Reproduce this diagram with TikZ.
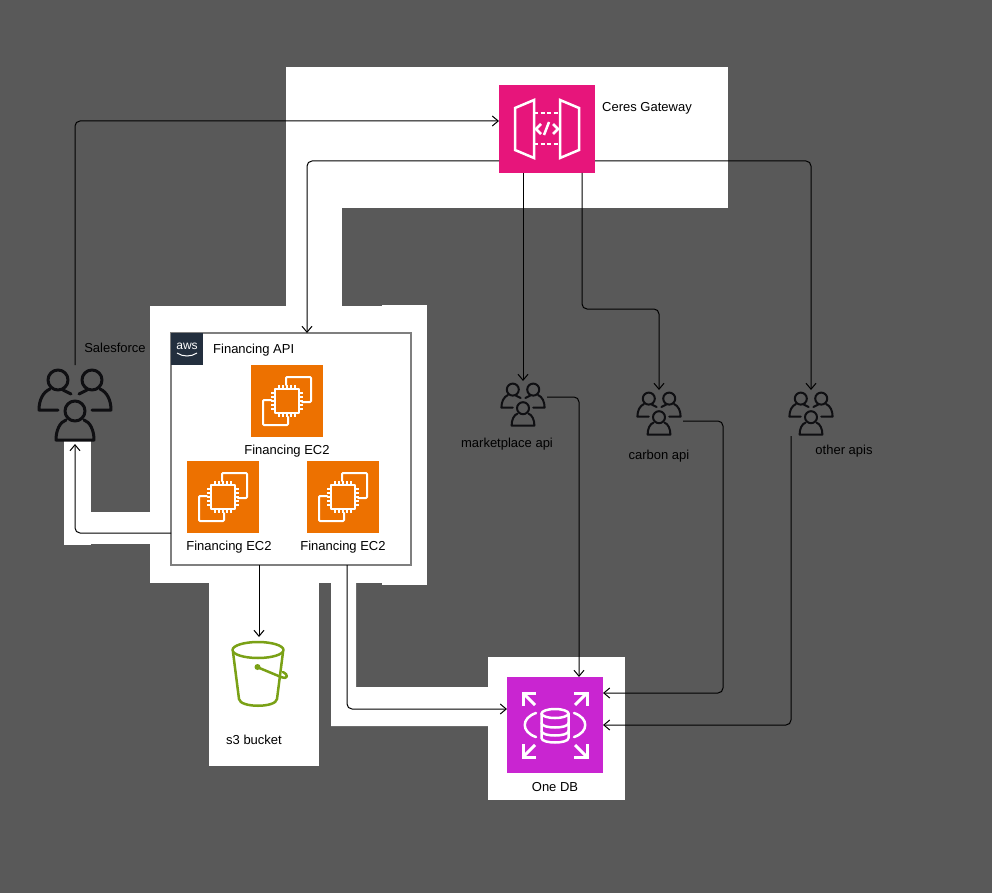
\documentclass[tikz,border=0pt]{standalone}
\usepackage{fontspec}
\setmainfont{Liberation Sans}
\usetikzlibrary{arrows.meta,calc}
\definecolor{bgc}{HTML}{595959}
\definecolor{gwc}{HTML}{E7157B}
\definecolor{ecc}{HTML}{ED7100}
\definecolor{dbc}{HTML}{C925D1}
\definecolor{s3c}{HTML}{7AA116}
\definecolor{awsc}{HTML}{232F3E}
\definecolor{boxc}{HTML}{7F7F7F}
\definecolor{usrc}{HTML}{0F0F12}
\tikzset{
  iconbox/.style={inner sep=0pt,outer sep=0pt,minimum width=#1,minimum height=#1},
  ecbox/.style={iconbox=72pt,fill=ecc},
  lbl/.style={inner sep=0pt,font=\fontsize{13}{15}\selectfont,text=black},
  lblw/.style={lbl,anchor=west},
  conn/.style={draw=black,line width=1pt,rounded corners=5pt,-{Straight Barb[length=6pt,width=10pt,line width=1pt]}},
  wh/.style={line width=2.5pt,draw=white,line cap=round,line join=round,fill=none},
  us/.style={inner sep=0pt,outer sep=0pt,minimum width=#1,minimum height=46pt},
}
\newcommand{\ecicon}[1]{\begin{scope}[shift={(#1)}]
  \draw[wh,line width=2pt,rounded corners=1pt] (-1,-16)--(-1,-24)--(24,-24)--(24,1)--(15,1);
  \draw[wh,line width=2pt,rounded corners=1pt] (-16,-1)--(-24,-1)--(-24,24)--(1,24)--(1,16);
  \draw[wh] (-12,-12) rectangle (12,12);
  \foreach \p in {-8,-4,0,4,8}{
    \draw[white,line width=1.4pt] (\p,-12)--(\p,-16) (\p,12)--(\p,16) (-12,\p)--(-16,\p) (12,\p)--(16,\p);}
\end{scope}}
\newcommand{\usersicon}[4]{\begin{scope}[shift={(#1)},scale=#2,draw=usrc,line width=#3pt,line cap=round,line join=round]
  \draw (-17,-24) circle[radius=10];
  \draw (17,-24) circle[radius=10];
  \draw (-17,6)--(-36,6) .. controls (-36,-4) and (-32,-12) .. (-25,-15);
  \draw (-12,-14)--(-4,-10);
  \draw (17,6)--(36,6) .. controls (36,-4) and (32,-12) .. (25,-15);
  \draw (12,-14)--(4,-10);
  \draw[fill=none] (0,7) circle[radius=10];
  \draw (-9,16) .. controls (-15,18) and (-19,26) .. (-19,36)--(19,36) .. controls (19,26) and (15,18) .. (9,16);
\end{scope}}
\begin{document}
\begin{tikzpicture}[x=1pt,y=-1pt]
\useasboundingbox (0,0) rectangle (992,893);
\fill[bgc] (0,0) rectangle (992,893);
% white patches
\fill[white] (286,67) rectangle (728,208);
\fill[white] (286,208) rectangle (342,306);
\fill[white] (150,306) rectangle (382,583);
\fill[white] (382,305) rectangle (427,585);
\fill[white] (209,583) rectangle (319,766);
\fill[white] (331,583) -- (356,583) -- (356,687) -- (488,687) -- (488,726) -- (331,726) -- cycle;
\fill[white] (488,657) rectangle (625,800);
\fill[white] (64,440) rectangle (91,545);
\fill[white] (91,512) rectangle (150,544);

% Gateway
\node[iconbox=96pt,minimum height=88pt,fill=gwc] (gw) at (547,129) {};
\begin{scope}[shift={(gw.center)}]
  \draw[wh,line join=miter] (-32,-21)--(-13,-29)--(-13,29)--(-32,21)--cycle;
  \draw[wh,line join=miter] (13,-29)--(32,-21)--(32,21)--(13,29)--cycle;
  \draw[white,line width=2.5pt,dash pattern=on 4pt off 2.5pt] (-13,-16)--(13,-16) (-13,15)--(13,15);
  \draw[wh,line cap=butt] (-6,-5)--(-11,0)--(-6,5) (6,-5)--(11,0)--(6,5) (2,-7)--(-3,6);
\end{scope}
\node[lblw] (gwl) at (602,108) {Ceres Gateway};

% Financing box
\node[draw=boxc,line width=2pt,fill=white,inner sep=0pt,outer sep=0pt,minimum width=240pt,minimum height=232pt] (fin) at (291,449) {};
\node[iconbox=32pt,fill=awsc] (aws) at (187,349) {};
\node[inner sep=0pt,text=white,font=\fontsize{12}{12}\selectfont] (awst) at (187,346) {aws};
\draw[white,line width=1pt] (177,353) .. controls (183,357) and (191,357) .. (197,353);
\node[lblw] (finl) at (213,350) {Financing API};
\node[ecbox] (e1) at (287,401) {};
\node[ecbox] (e2) at (223,497) {};
\node[ecbox] (e3) at (343,497) {};
\ecicon{e1.center}
\ecicon{e2.center}
\ecicon{e3.center}
\node[lbl] (e1l) at (287,451) {Financing EC2};
\node[lbl] (e2l) at (229,547) {Financing EC2};
\node[lbl] (e3l) at (343,547) {Financing EC2};

% Users
\node[us=74pt,minimum height=79pt] (sf) at (75,404.5) {};
\usersicon{75,404}{1}{3}{}
\node[lbl] (sfl) at (115,348) {Salesforce};
\node[us=48pt] (mk) at (523,404) {};
\usersicon{mk.center}{0.6}{2}{}
\node[lbl] (mkl) at (507,444) {marketplace api};
\node[us=48pt] (cb) at (659,413) {};
\usersicon{cb.center}{0.6}{2}{}
\node[lbl] (cbl) at (659,456) {carbon api};
\node[us=48pt] (ot) at (811,413) {};
\usersicon{ot.center}{0.6}{2}{}
\node[lbl] (otl) at (844,451) {other apis};

% S3 bucket
\node[inner sep=0pt,outer sep=0pt,minimum width=56pt,minimum height=68pt] (s3) at (259,671) {};
\begin{scope}[draw=s3c,line width=2.5pt,line cap=round,line join=round]
  \draw (258,650) ellipse[x radius=25.5,y radius=8];
  \draw (233,652) -- (239,699) .. controls (240,708) and (276,708) .. (277,699) -- (283,652);
  \draw (257,667) -- (281,677) .. controls (289,680) and (288,674) .. (283,672);
  \fill[s3c] (257.5,667) circle[radius=3];
\end{scope}
\node[lbl] (s3l) at (254,740) {s3 bucket};

% DB
\node[iconbox=96pt,fill=dbc] (db) at (555,725) {};
\begin{scope}[shift={(db.center)}]
  \foreach \sx/\sy in {-1/-1,1/-1,-1/1,1/1}{
    \draw[white,line width=3pt,line join=miter] (\sx*19,\sy*32)--(\sx*32,\sy*32)--(\sx*32,\sy*19);
    \draw[white,line width=3pt] (\sx*32,\sy*32)--(\sx*20,\sy*20);
  }
  \draw[wh] (-19,-12) .. controls (-34,-7) and (-34,7) .. (-19,12);
  \draw[wh] (19,-12) .. controls (34,-7) and (34,7) .. (19,12);
  \draw[wh] (0,-11.5) ellipse[x radius=13.5,y radius=4.5];
  \draw[wh] (-13.5,-11.5)--(-13.5,13) .. controls (-13.5,19) and (13.5,19) .. (13.5,13)--(13.5,-11.5);
  \draw[wh] (-13.5,-2) .. controls (-13.5,4) and (13.5,4) .. (13.5,-2);
  \draw[wh] (-13.5,6) .. controls (-13.5,12) and (13.5,12) .. (13.5,6);
\end{scope}
\node[lbl] (dbl) at (555,787) {One DB};

% connectors
\draw[conn] (sf.north) -- (75,121) -- (gw.west |- 0,121);
\draw[conn] (gw.west |- 0,161) -- (307,161) -- (307,333);
\draw[conn] (gw.east |- 0,161) -- (811,161) -- (ot.north);
\draw[conn] (523,173) -- (mk.north);
\draw[conn] (582,173) -- (582,309) -- (659,309) -- (cb.north);
\draw[conn] (mk.east |- 0,397) -- (579,397) -- (579,677);
\draw[conn] (cb.east |- 0,421) -- (723,421) -- (723,693) -- (db.east |- 0,693);
\draw[conn] (791,436) -- (791,725) -- (db.east);
\draw[conn] (fin.west |- 0,533) -- (75,533) -- (sf.south);
\draw[conn] (259,565) -- (259,637);
\draw[conn] (347,565) -- (347,709) -- (db.west |- 0,709);
\end{tikzpicture}
\end{document}
